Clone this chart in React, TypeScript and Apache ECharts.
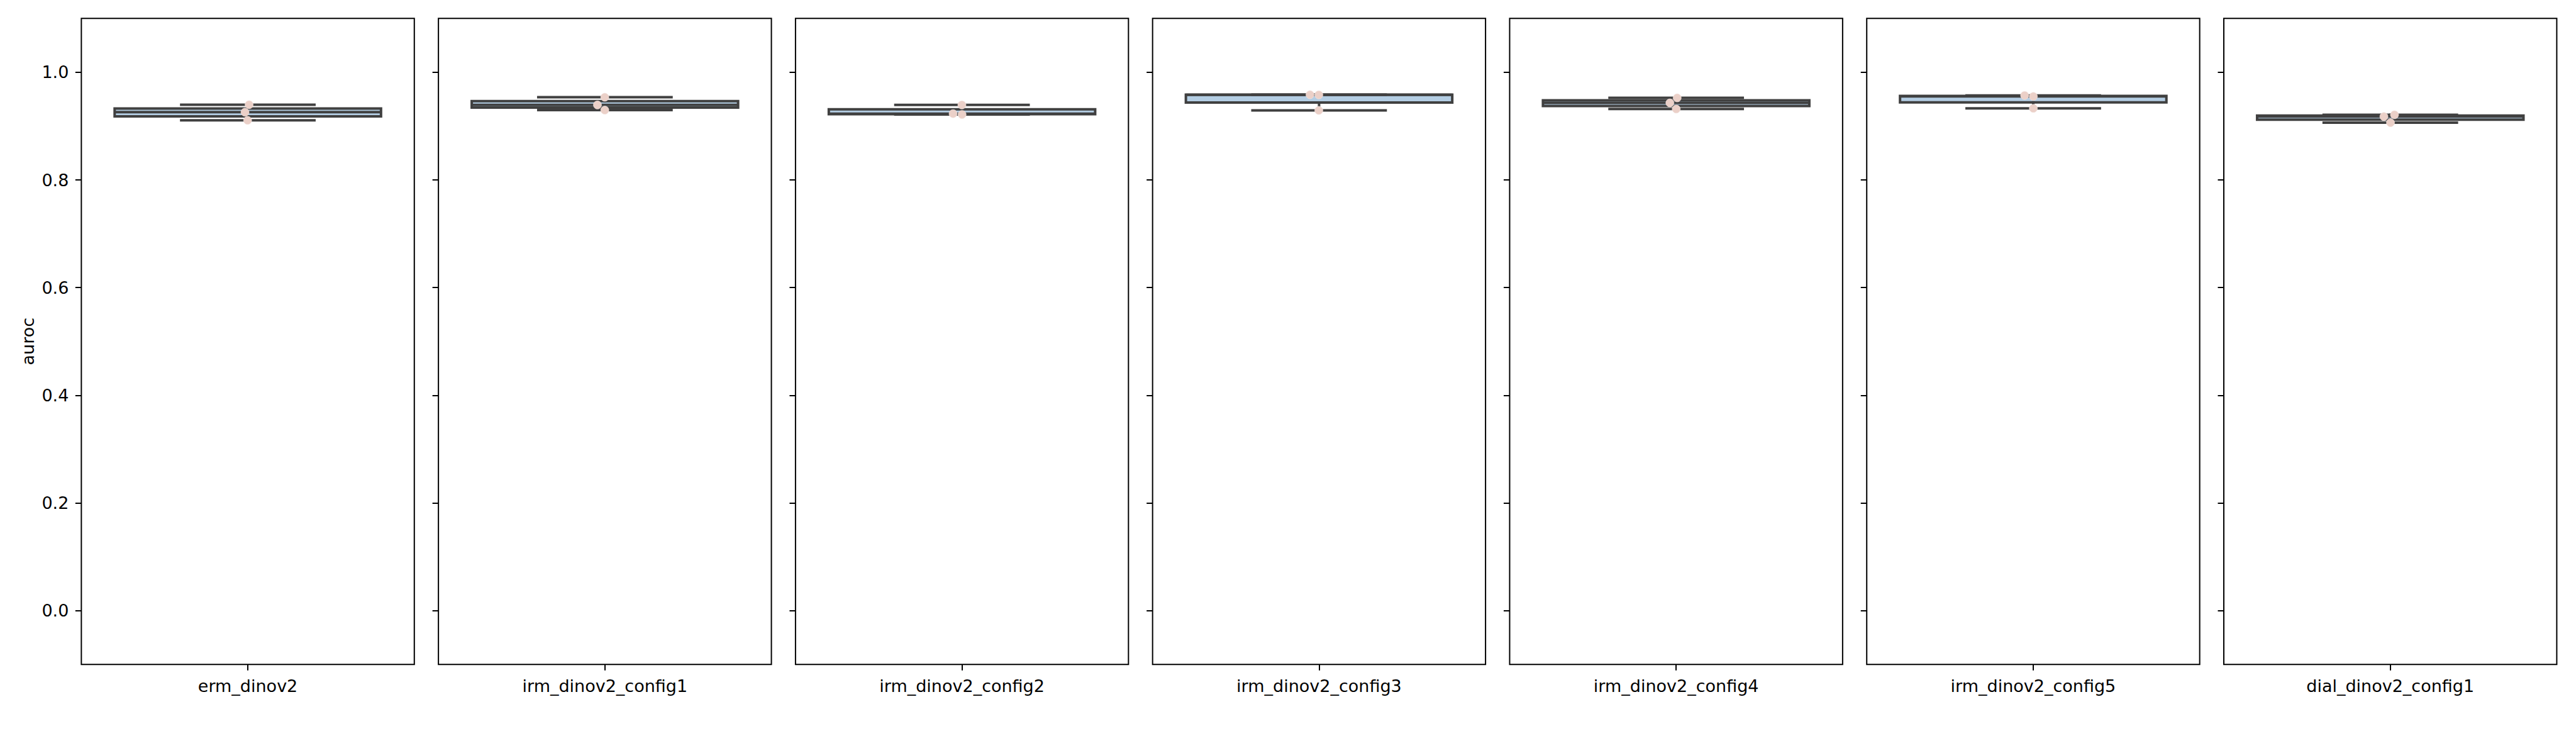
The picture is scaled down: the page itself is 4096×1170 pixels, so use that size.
import React, { useEffect, useRef } from 'react';
import * as echarts from 'echarts';

// ---------- data ----------
const CATEGORIES = [
  'erm_dinov2',
  'irm_dinov2_config1',
  'irm_dinov2_config2',
  'irm_dinov2_config3',
  'irm_dinov2_config4',
  'irm_dinov2_config5',
  'dial_dinov2_config1',
];

const BOX_MIN = [0.9106, 0.9296, 0.9215, 0.9291, 0.9316, 0.9329, 0.9063];
const BOX_Q1 = [0.918, 0.9344, 0.9222, 0.9436, 0.9373, 0.944, 0.912];
const BOX_MEDIAN = [0.9258, 0.9392, 0.923, 0.9581, 0.943, 0.9551, 0.9177];
const BOX_Q3 = [0.9327, 0.9464, 0.9311, 0.9582, 0.9477, 0.956, 0.9194];
const BOX_MAX = [0.9397, 0.9536, 0.9392, 0.9583, 0.9524, 0.9569, 0.921];

const POINT_VALUES = [
  [0.9397, 0.9258, 0.9106],
  [0.9536, 0.9392, 0.9296],
  [0.9392, 0.923, 0.9215],
  [0.9583, 0.958, 0.9291],
  [0.9524, 0.943, 0.9316],
  [0.9569, 0.9551, 0.9329],
  [0.9177, 0.921, 0.9063],
];
// horizontal jitter of the strip points, in category units
const POINT_JITTER = [
  [0.0038, -0.0085, -0.0007],
  [-0.0004, -0.0224, -0.0004],
  [-0.0003, -0.0267, 0.0002],
  [-0.0272, -0.0008, -0.0008],
  [0.0031, -0.0188, 0.0003],
  [-0.0258, 0.0004, 0.0004],
  [-0.0192, 0.0126, 0.0006],
];

const Y_TICKS = [0, 0.2, 0.4, 0.6, 0.8, 1.0];
const Y_MIN = -0.1;
const Y_MAX = 1.1;
const Y_LABEL = 'auroc';

// ---------- layout ----------
const W = 4096;
const H = 1170;
const S = 0.65;
const PANEL_LEFT = 199 * S;
const PANEL_W = 814.5 * S;
const PANEL_PITCH = 873.5 * S;
const PANEL_TOP = 45 * S;
const PANEL_BOTTOM = 1625 * S;
const FONT = 'DejaVu Sans';
const FS = 27;
const LW = 4;
const EDGE = '#404040';
const FILL = '#b3cde3';
const POINT = '#ebd0c8';

function buildOption() {
  const grids: any[] = [];
  const xAxes: any[] = [];
  const yAxes: any[] = [];
  const series: any[] = [];

  CATEGORIES.forEach((cat, i) => {
    grids.push({
      left: PANEL_LEFT + i * PANEL_PITCH,
      top: PANEL_TOP,
      width: PANEL_W,
      height: PANEL_BOTTOM - PANEL_TOP,
      show: true,
      borderColor: '#000',
      borderWidth: 2,
      backgroundColor: 'transparent',
      containLabel: false,
    });
    xAxes.push({
      type: 'category',
      gridIndex: i,
      position: 'bottom',
      data: [cat],
      boundaryGap: true,
      axisLine: { show: false, onZero: false },
      axisTick: {
        show: true,
        alignWithLabel: true,
        length: 9.5,
        lineStyle: { color: '#000', width: 2 },
      },
      axisLabel: {
        show: true,
        interval: 0,
        margin: 21,
        fontSize: FS,
        fontFamily: FONT,
        color: '#000',
      },
      splitLine: { show: false },
    });
    xAxes.push({
      type: 'value',
      gridIndex: i,
      position: 'top',
      min: -0.5,
      max: 0.5,
      show: false,
      axisLine: { show: false, onZero: false },
    });
    yAxes.push({
      type: 'value',
      gridIndex: i,
      position: 'left',
      min: Y_MIN,
      max: Y_MAX,
      axisLine: { show: false, onZero: false },
      splitLine: { show: false },
      axisTick: {
        show: true,
        length: 9.5,
        customValues: Y_TICKS,
        lineStyle: { color: '#000', width: 2 },
      },
      axisLabel: {
        show: i === 0,
        customValues: Y_TICKS,
        formatter: (v: number) => v.toFixed(1),
        margin: 20,
        fontSize: FS,
        fontFamily: FONT,
        color: '#000',
      },
    });

    series.push({
      type: 'custom',
      xAxisIndex: 2 * i,
      yAxisIndex: i,
      z: 2,
      data: [[0, BOX_MIN[i], BOX_Q1[i], BOX_MEDIAN[i], BOX_Q3[i], BOX_MAX[i]]],
      encode: { x: 0, y: [1, 2, 3, 4, 5] },
      renderItem: (params: any, api: any) => {
        const x0 = api.value(0);
        const pMin = api.coord([x0, api.value(1)]);
        const pQ1 = api.coord([x0, api.value(2)]);
        const pMed = api.coord([x0, api.value(3)]);
        const pQ3 = api.coord([x0, api.value(4)]);
        const pMax = api.coord([x0, api.value(5)]);
        const bw = api.size([1, 0])[0];
        const cx = pMed[0];
        const half = bw * 0.4;
        const capHalf = bw * 0.2;
        const lineStyle = { stroke: EDGE, lineWidth: LW, lineCap: 'square' };
        return {
          type: 'group',
          children: [
            {
              type: 'rect',
              shape: { x: cx - half, y: pQ3[1], width: half * 2, height: pQ1[1] - pQ3[1] },
              style: { fill: FILL, stroke: EDGE, lineWidth: LW, lineJoin: 'miter' },
            },
            { type: 'line', shape: { x1: cx, y1: pQ3[1], x2: cx, y2: pMax[1] }, style: lineStyle },
            { type: 'line', shape: { x1: cx, y1: pQ1[1], x2: cx, y2: pMin[1] }, style: lineStyle },
            { type: 'line', shape: { x1: cx - capHalf, y1: pMax[1], x2: cx + capHalf, y2: pMax[1] }, style: lineStyle },
            { type: 'line', shape: { x1: cx - capHalf, y1: pMin[1], x2: cx + capHalf, y2: pMin[1] }, style: lineStyle },
            { type: 'line', shape: { x1: cx - half, y1: pMed[1], x2: cx + half, y2: pMed[1] }, style: { stroke: EDGE, lineWidth: LW, lineCap: 'butt' } },
          ],
        };
      },
    });

    series.push({
      type: 'scatter',
      xAxisIndex: 2 * i + 1,
      yAxisIndex: i,
      z: 5,
      symbol: 'circle',
      symbolSize: 13,
      itemStyle: { color: POINT, borderColor: '#f3e6e2', borderWidth: 0.6, opacity: 1 },
      data: POINT_VALUES[i].map((v, k) => [POINT_JITTER[i][k], v]),
    });
  });

  return {
    animation: false,
    backgroundColor: '#ffffff',
    grid: grids,
    xAxis: xAxes,
    yAxis: yAxes,
    series,
    graphic: [
      {
        type: 'text',
        x: 68.3 * S,
        y: 835 * S,
        rotation: Math.PI / 2,
        style: {
          text: Y_LABEL,
          fontSize: FS,
          fontFamily: FONT,
          fill: '#000',
          align: 'center',
          verticalAlign: 'middle',
          textAlign: 'center',
          textVerticalAlign: 'middle',
        },
      },
    ],
  };
}

export default function App() {
  const ref = useRef<HTMLDivElement>(null);
  useEffect(() => {
    if (!ref.current) return;
    const chart = echarts.init(ref.current, null, { renderer: 'svg', width: W, height: H });
    chart.setOption(buildOption() as any);
    return () => {
      chart.dispose();
    };
  }, []);
  return (
    <div
      ref={ref}
      style={{ position: 'absolute', left: 0, top: 0, width: W, height: H, background: '#fff' }}
    />
  );
}
